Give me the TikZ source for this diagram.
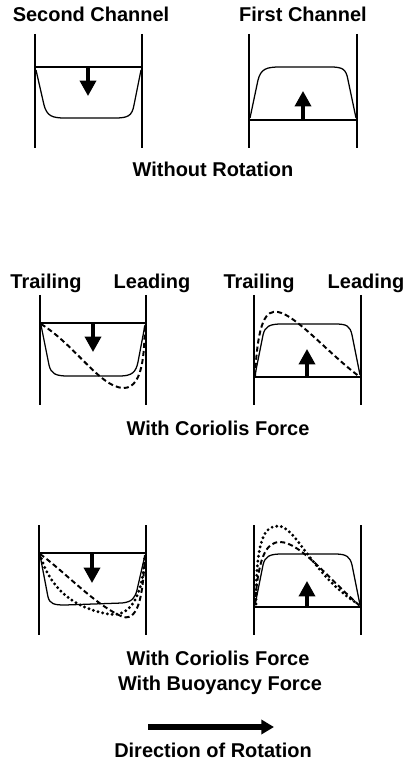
\documentclass[tikz,border=0pt]{standalone}
\usepackage{fontspec}
\setmainfont{Liberation Sans}
\usepackage{tikz}
\usetikzlibrary{arrows.meta, positioning}

\tikzset{
  wall/.style={line width=1.4pt},
  profile/.style={line width=0.9pt, line join=round},
  coriolis/.style={line width=1.4pt, dash pattern=on 3.6pt off 2.2pt},
  buoyancy/.style={line width=2.3pt, line cap=round, dash pattern=on 0pt off 3.4pt},
  flowarrow/.style={line width=2.3pt, -{Triangle[length=11pt, width=11.5pt]}},
  label/.style={font=\fontsize{14.2}{17}\selectfont\bfseries, anchor=base, inner sep=0pt}
}

\begin{document}
\begin{tikzpicture}[x=0.025cm, y=-0.025cm]
  \useasboundingbox (0,0) rectangle (408,766);

  % titles
  \node[label] (second) at (91,22) {Second Channel};
  \node[label] (first) at (303,22) {First Channel};
  \node[label] (norot) at (213,177) {Without Rotation};

  \node[label] (trailA) at (46,289) {Trailing};
  \node[label] (leadA) at (152,289) {Leading};
  \node[label] (trailB) at (259,289) {Trailing};
  \node[label] (leadB) at (366,289) {Leading};
  \node[label] (corio) at (218,435) {With Coriolis Force};

  \node[label] (corioB) at (218,665) {With Coriolis Force};
  \node[label] (buoy) at (220,690) {With Buoyancy Force};
  \node[label] (direction) at (213,757) {Direction of Rotation};

  % channel walls
  \foreach \x/\top/\bot in {35/34/148, 142/34/148, 249/34/148, 357/34/148,
                             40/295/405, 146/295/405, 254/295/405, 361/295/405,
                             39/525/635, 146/525/635, 254/525/635, 361/525/635}
    \draw[wall] (\x,\top) -- (\x,\bot);

  % without rotation
  \draw[profile] (35,67) -- (142,67);
  \draw[profile] (36,70) -- (44,105) .. controls (47,116) and (52,118) .. (65,118)
    -- (115,118) .. controls (128,118) and (132,116) .. (134,105) -- (141,70);
  \draw[flowarrow] (88,67) -- (88,96);
  \draw[profile] (249,120) -- (357,120);
  \draw[profile] (250,118) -- (258,80) .. controls (261,69) and (266,67) .. (280,67)
    -- (330,67) .. controls (343,67) and (346,69) .. (348,80) -- (356,118);
  \draw[flowarrow] (303,120) -- (303,91);

  % with coriolis force
  \draw[profile] (40,323) -- (146,323);
  \draw[profile] (41,325) -- (49,365) .. controls (51,374) and (56,376) .. (68,376)
    -- (120,376) .. controls (132,376) and (136,372) .. (138,362) -- (145,325);
  \draw[coriolis] (41,324) .. controls (75,345) and (100,387) .. (123,388)
    .. controls (146,389) and (144,340) .. (145,324);
  \draw[flowarrow] (93,323) -- (93,352);
  \draw[profile] (254,377) -- (361,377);
  \draw[profile] (255,375) -- (263,335) .. controls (265,326) and (270,324) .. (282,324)
    -- (335,324) .. controls (347,324) and (350,326) .. (352,335) -- (360,375);
  \draw[coriolis] (255,376) .. controls (258,320) and (266,310) .. (278,312)
    .. controls (296,315) and (330,355) .. (360,377);
  \draw[flowarrow] (307,377) -- (307,349);

  % with coriolis and buoyancy force
  \draw[profile] (39,553) -- (146,553);
  \draw[profile] (40,555) -- (48,597) .. controls (50,604) and (54,605) .. (65,605)
    -- (122,603) .. controls (132,602) and (135,598) .. (137,590) -- (145,555);
  \draw[coriolis] (40,554) .. controls (65,572) and (95,605) .. (123,617)
    .. controls (140,621) and (143,590) .. (145,555);
  \draw[buoyancy] (40,554) .. controls (50,590) and (75,608) .. (108,614)
    .. controls (136,619) and (143,585) .. (145,555);
  \draw[flowarrow] (92,553) -- (92,583);
  \draw[profile] (254,607) -- (361,607);
  \draw[profile] (255,605) -- (263,565) .. controls (265,556) and (270,554) .. (282,554)
    -- (335,554) .. controls (347,554) and (350,557) .. (352,565) -- (360,605);
  \draw[coriolis] (255,605) .. controls (258,560) and (265,542) .. (280,542)
    .. controls (300,542) and (330,580) .. (360,606);
  \draw[buoyancy] (256,604) .. controls (256,540) and (264,526) .. (278,526)
    .. controls (296,526) and (312,575) .. (358,604);
  \draw[flowarrow] (307,607) -- (307,581);

  % direction of rotation
  \coordinate (rotfrom) at (148,727);
  \coordinate (rotto) at (274,727);
  \draw[line width=3.6pt, -{Triangle[length=9pt, width=10pt]}] (rotfrom) -- (rotto);
\end{tikzpicture}
\end{document}
